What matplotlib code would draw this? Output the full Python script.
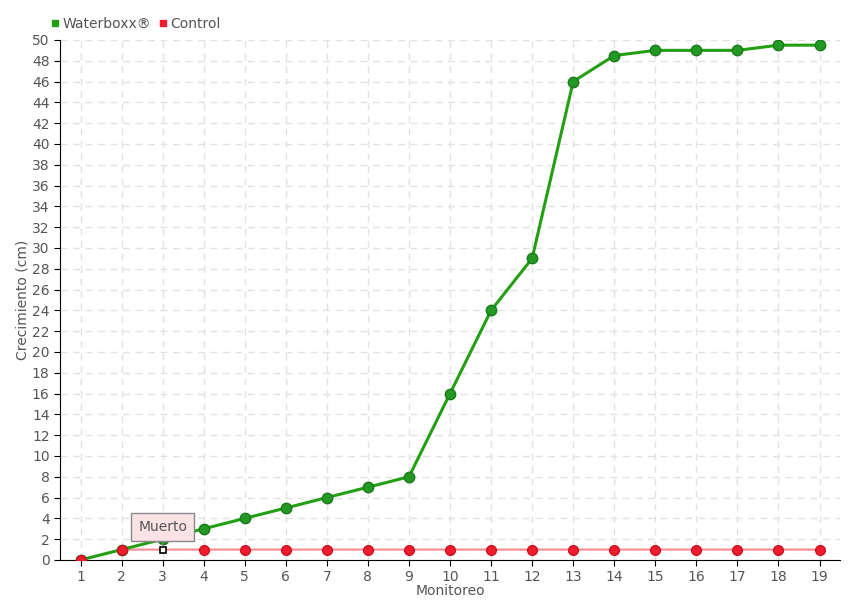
import matplotlib.pyplot as plt
from matplotlib.lines import Line2D

monitoreo = list(range(1, 20))
waterboxx = [0, 1, 2, 3, 4, 5, 6, 7, 8, 16, 24, 29, 46, 48.5, 49, 49, 49, 49.5, 49.5]
control = [0, 1, 1, 1, 1, 1, 1, 1, 1, 1, 1, 1, 1, 1, 1, 1, 1, 1, 1]
muerto_idx = 2

green = '#22a012'
red = '#ee1c2e'
txt = '#555555'

fig = plt.figure(figsize=(8.6, 6), dpi=100)
ax = fig.add_axes([0.0698, 0.0667, 0.907, 0.8667])

ax.plot(monitoreo, control, color='#f48a92', lw=1.5, zorder=3)
ax.plot(monitoreo, waterboxx, color=green, lw=2.2, zorder=4,
        marker='o', ms=7.5, mfc='#229922', mec='#1b7a1b', mew=1)
for i, (x, y) in enumerate(zip(monitoreo, control)):
    if i == muerto_idx:
        ax.plot(x, y, marker='s', ms=5, mfc='white', mec='black', mew=1.2, zorder=6)
    else:
        ax.plot(x, y, marker='o', ms=7, mfc=red, mec='#d01020', mew=1, zorder=5)

ax.annotate('Muerto', xy=(3, 1.15), xytext=(3, 3.2), ha='center', va='center',
            fontsize=10, color=txt, zorder=7,
            bbox=dict(boxstyle='square,pad=0.5', fc='#fbe3e5', ec='#888888', lw=1),
            arrowprops=dict(arrowstyle='-', color='#888888', lw=1))

ax.set_xlim(0.5, 19.5)
ax.set_ylim(0, 50)
ax.set_xticks(monitoreo)
ax.set_yticks(range(0, 51, 2))
ax.grid(True, color='#e2e2e2', ls=(0, (5, 4)), lw=1)
ax.set_axisbelow(True)
for s in ['top', 'right']:
    ax.spines[s].set_visible(False)
ax.tick_params(labelcolor=txt, labelsize=10, length=4, direction='out', color='black')
ax.set_xlabel('Monitoreo', color=txt, fontsize=10, labelpad=0)
ax.set_ylabel('Crecimiento (cm)', color=txt, fontsize=10, labelpad=2)

handles = [Line2D([], [], ls='', marker='s', ms=5, color=green),
           Line2D([], [], ls='', marker='s', ms=5, color=red)]
leg = fig.legend(handles, ['Waterboxx®', 'Control'], loc='upper left',
                 bbox_to_anchor=(0.045, 0.993), ncol=2, frameon=False, fontsize=10,
                 handlelength=0.6, handletextpad=0.2, columnspacing=0.6, labelcolor=txt)

fig.savefig('out.png', dpi=100)
